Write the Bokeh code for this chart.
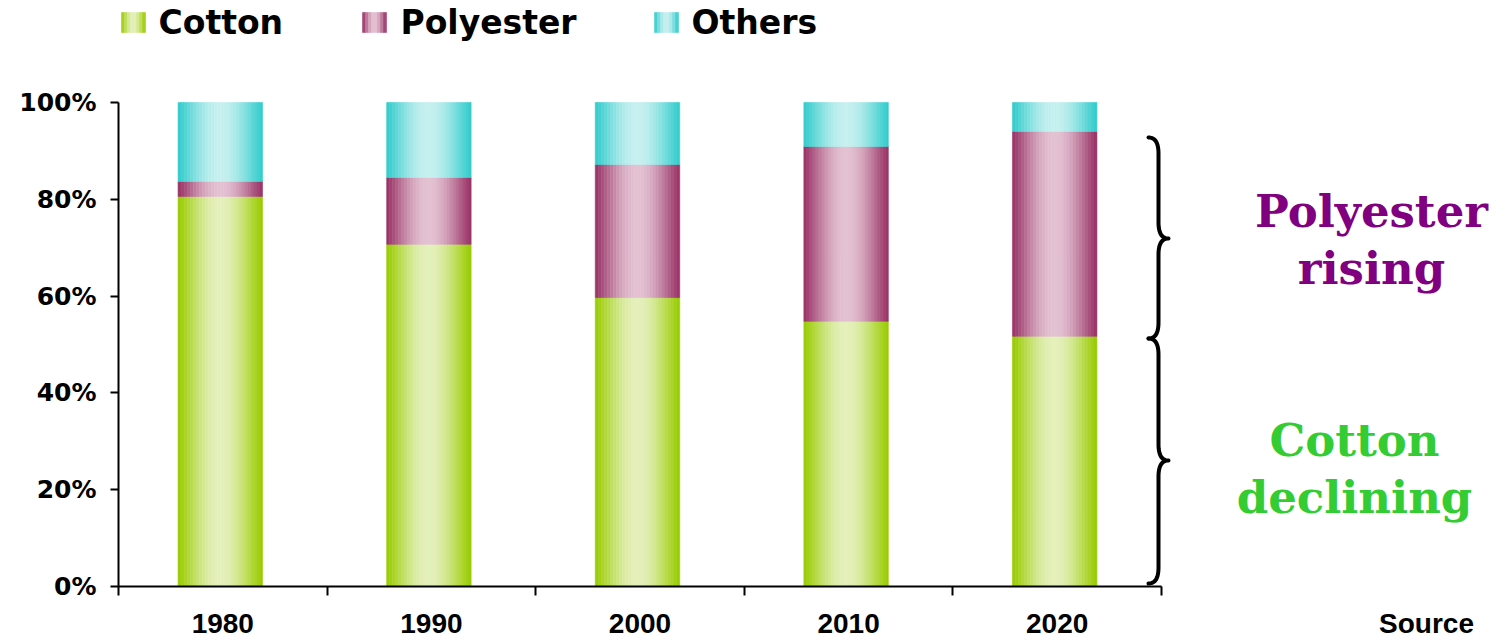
import numpy as np
from bokeh.plotting import figure
from bokeh.models import Range1d, FixedTicker, LinearAxis
from bokeh.core.properties import value
from bokeh.embed import file_html
from bokeh.resources import INLINE

# ---------------- data ----------------
years = ["1980", "1990", "2000", "2010", "2020"]
cotton = [80.6, 70.7, 59.7, 54.8, 51.7]
polyester = [3.1, 13.8, 27.5, 36.1, 42.3]
others = [16.3, 15.5, 12.8, 9.1, 6.0]
series_names = ["Cotton", "Polyester", "Others"]
y_ticks = [0, 20, 40, 60, 80, 100]
y_tick_labels = ["0%", "20%", "40%", "60%", "80%", "100%"]
note_polyester = ["Polyester", "rising"]
note_cotton = ["Cotton", "declining"]
source_text = "Source"

# ---------------- geometry / style ----------------
W, H = 1494, 641
LEFT = 118
FRAME_BOTTOM = 586          # px of 0 %
PX_X = 1043 / 5             # px per category
PX_Y = 4.84                 # px per percent
BW = 0.405                  # bar width (category units)
BAR_SHIFT = -0.012
x_end = (W - LEFT) / PX_X
y_end = FRAME_BOTTOM / PX_Y


def dx(wx):  # picture px -> data x
    return (wx - LEFT) / PX_X


def dy(wy):  # picture px -> data y
    return (FRAME_BOTTOM - wy) / PX_Y


def base_y(wy, size):  # compensate text baseline placement
    return dy(wy - 0.37 * size)


edge_cols = {"Cotton": (153, 204, 0), "Polyester": (153, 51, 102), "Others": (51, 204, 204)}
mid_cols = {"Cotton": (228, 240, 186), "Polyester": (227, 193, 210), "Others": (198, 240, 240)}


def shade(name, t):
    e, c = edge_cols[name], mid_cols[name]
    r = [int(round(e[k] + (c[k] - e[k]) * t)) for k in range(3)]
    return "#%02x%02x%02x" % tuple(r)


p = figure(width=W, height=H, x_range=Range1d(0, x_end), y_range=Range1d(0, y_end),
           output_backend="svg", toolbar_location=None,
           min_border_left=LEFT, min_border_right=0, min_border_top=0,
           min_border_bottom=H - FRAME_BOTTOM)
p.outline_line_color = None
p.xgrid.grid_line_color = None
p.ygrid.grid_line_color = None
p.background_fill_color = "white"
p.border_fill_color = "white"

# ---------------- gradient stacked bars ----------------
N = 28
u = (np.arange(N) + 0.5) / N
prof = np.sin(np.pi * u) ** 1.2

stack = {"Cotton": cotton, "Polyester": polyester, "Others": others}
base = np.zeros(len(years))
for name in series_names:
    vals = np.array(stack[name], dtype=float)
    L, R, B, T, C = [], [], [], [], []
    for i in range(len(years)):
        x0 = i + 0.5 + BAR_SHIFT - BW / 2
        for k in range(N):
            L.append(x0 + k * BW / N)
            R.append(x0 + (k + 1) * BW / N)
            B.append(base[i])
            T.append(base[i] + vals[i])
            C.append(shade(name, prof[k]))
    p.quad(left=L, right=R, bottom=B, top=T, fill_color=C, line_color=C, line_width=0.6)
    base = base + vals

# ---------------- legend (manual, gradient swatches) ----------------
leg_swatch_x = [121, 362, 654]
leg_text_x = [158, 400, 691]
NS = 8
us = (np.arange(NS) + 0.5) / NS
profs = np.sin(np.pi * us) ** 1.2
for j, name in enumerate(series_names):
    L, R, C = [], [], []
    for k in range(NS):
        L.append(dx(leg_swatch_x[j] + k * 24 / NS))
        R.append(dx(leg_swatch_x[j] + (k + 1) * 24 / NS))
        C.append(shade(name, profs[k]))
    p.quad(left=L, right=R, bottom=[dy(32)] * NS, top=[dy(12)] * NS,
           fill_color=C, line_color=C, line_width=0.6)
p.text(x=[dx(v) for v in leg_text_x], y=[base_y(34, 33)] * 3, text=series_names,
       text_font=value("DejaVu Sans"), text_font_style="bold", text_font_size="33px",
       text_color="black", text_baseline="alphabetic", text_align="left")

# ---------------- braces ----------------
def qbez(p0, p1, p2, n=14):
    t = np.linspace(0, 1, n)
    xs = (1 - t) ** 2 * p0[0] + 2 * (1 - t) * t * p1[0] + t ** 2 * p2[0]
    ys = (1 - t) ** 2 * p0[1] + 2 * (1 - t) * t * p1[1] + t ** 2 * p2[1]
    return list(xs), list(ys)


def brace(y_top, y_mid, y_bot, xe=1148, xs=1158, xt=1168, r=16):
    X, Y = [], []
    for seg in [((xe, y_top), (xs, y_top), (xs, y_top + r)),
                ((xs, y_mid - r), (xs, y_mid), (xt, y_mid)),
                ((xt, y_mid), (xs, y_mid), (xs, y_mid + r)),
                ((xs, y_bot - r), (xs, y_bot), (xe, y_bot))]:
        a, b = qbez(*seg)
        X += a
        Y += b
    return [dx(v) for v in X], [dy(v) for v in Y]


for (yt, ym, yb) in [(137, 238, 338), (338, 460, 583)]:
    bx, by = brace(yt, ym, yb)
    p.line(bx, by, line_color="black", line_width=4, line_join="round", line_cap="round")

# ---------------- notes ----------------
p.text(x=[dx(1371)] * 2, y=[base_y(228, 45), base_y(285, 45)], text=note_polyester,
       text_font=value("DejaVu Serif"), text_font_style="bold", text_font_size="45px",
       text_color="#800080", text_align="center", text_baseline="alphabetic")
p.text(x=[dx(1354)] * 2, y=[base_y(457, 45), base_y(514, 45)], text=note_cotton,
       text_font=value("DejaVu Serif"), text_font_style="bold", text_font_size="45px",
       text_color="#33CC33", text_align="center", text_baseline="alphabetic")

# ---------------- axes ----------------
ya = p.yaxis[0]
ya.ticker = FixedTicker(ticks=y_ticks)
ya.major_label_overrides = {t: l for t, l in zip(y_ticks, y_tick_labels)}
ya.bounds = (0, 100)
ya.axis_line_width = 2
ya.axis_line_color = "black"
ya.major_tick_line_width = 2
ya.major_tick_line_color = "black"
ya.major_tick_in = 0
ya.major_tick_out = 8
ya.minor_tick_line_color = None
ya.major_label_standoff = 14
ya.major_label_text_font = "DejaVu Sans"
ya.major_label_text_font_style = "bold"
ya.major_label_text_font_size = "25px"
ya.major_label_text_color = "black"

# x axis line with category-boundary ticks (no labels)
xa = p.xaxis[0]
xa.ticker = FixedTicker(ticks=[], minor_ticks=list(range(len(years) + 1)))
xa.bounds = (0, len(years))
xa.axis_line_width = 2
xa.axis_line_color = "black"
xa.major_tick_line_color = None
xa.major_tick_in = 0
xa.major_tick_out = 0
xa.minor_tick_line_color = "black"
xa.minor_tick_line_width = 2
xa.minor_tick_in = 0
xa.minor_tick_out = 9
xa.major_label_standoff = 0

# category labels (+ source note) on a second, line-less axis
centers = [i + 0.5 for i in range(len(years))]
src_x = dx(1378 + 48)
lab_axis = LinearAxis(ticker=FixedTicker(ticks=centers + [src_x], minor_ticks=[]),
                      major_label_overrides={**{c: y for c, y in zip(centers, years)},
                                             src_x: source_text},
                      axis_line_color=None, major_tick_line_color=None,
                      minor_tick_line_color=None, major_tick_in=0, major_tick_out=0,
                      major_label_standoff=12,
                      major_label_text_font="Liberation Sans",
                      major_label_text_font_style="bold",
                      major_label_text_font_size="28px",
                      major_label_text_color="black")
p.add_layout(lab_axis, "below")

open("out.html", "w").write(file_html(p, INLINE))
